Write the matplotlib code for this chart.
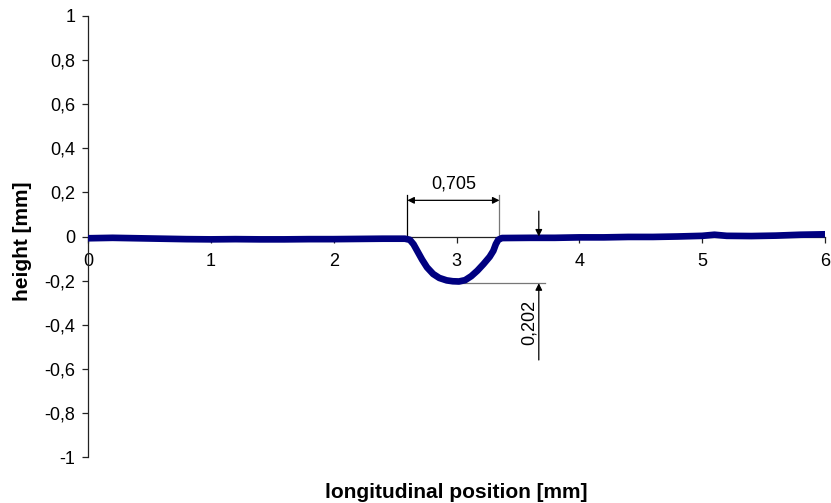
import matplotlib.pyplot as plt
from matplotlib.ticker import FuncFormatter

plt.rcParams['font.family'] = ['Liberation Sans', 'DejaVu Sans']
plt.rcParams['axes.unicode_minus'] = False

# profile data
pos_mm = [0.0, 0.2, 0.4, 0.6, 0.8, 1.0, 1.2, 1.4, 1.6, 1.8, 2.0, 2.2, 2.4, 2.58,
          2.62, 2.65, 2.68, 2.72, 2.76, 2.81, 2.86, 2.92, 2.97, 3.02, 3.07, 3.12,
          3.17, 3.22, 3.27, 3.30, 3.32, 3.34, 3.37,
          3.6, 3.8, 4.0, 4.2, 4.4, 4.6, 4.8, 5.0, 5.1, 5.2, 5.4, 5.6, 5.8, 6.0]
height_mm = [-0.008, -0.006, -0.008, -0.010, -0.012, -0.013, -0.012, -0.013, -0.013, -0.012,
             -0.012, -0.011, -0.010, -0.010,
             -0.015, -0.035, -0.065, -0.105, -0.140, -0.170, -0.188, -0.199, -0.203, -0.204,
             -0.198, -0.180, -0.155, -0.125, -0.092, -0.065, -0.035, -0.015, -0.007,
             -0.006, -0.006, -0.004, -0.004, -0.002, -0.002, 0.000, 0.003, 0.008, 0.003,
             0.002, 0.004, 0.008, 0.010]

width_label = "0,705"
depth_label = "0,202"
groove_start, groove_end = 2.60, 3.35
groove_depth = -0.212

fig = plt.figure(figsize=(8.31, 5.03), dpi=100)
ax = fig.add_axes([88 / 831, 1 - 457 / 503, (825 - 88) / 831, (457 - 16) / 503])

ax.plot(pos_mm, height_mm, color='#000080', linewidth=4.8, solid_capstyle='round',
        solid_joinstyle='round', zorder=3)

ax.set_xlim(0, 6)
ax.set_ylim(-1, 1)
ax.set_xticks(range(0, 7))
ax.set_yticks([-1, -0.8, -0.6, -0.4, -0.2, 0, 0.2, 0.4, 0.6, 0.8, 1])
ax.yaxis.set_major_formatter(FuncFormatter(lambda v, p: ('%g' % round(v, 2)).replace('.', ',')))

ax.spines['top'].set_visible(False)
ax.spines['right'].set_visible(False)
ax.spines['bottom'].set_position(('data', 0))
for s in ('left', 'bottom'):
    ax.spines[s].set_color('#222222')
    ax.spines[s].set_linewidth(0.9)
ax.tick_params(axis='both', direction='out', length=4, width=0.9, color='#222222',
               labelsize=13)
ax.tick_params(axis='x', pad=8)
ax.tick_params(axis='y', pad=5)

ax.set_xlabel('longitudinal position [mm]', fontsize=15, fontweight='bold', labelpad=0)
ax.xaxis.set_label_coords(0.5, -0.058)
ax.set_ylabel('height [mm]', fontsize=15, fontweight='bold')
ax.yaxis.set_label_coords(-0.076, 0.49)

# groove width dimension
ax.plot([groove_start, groove_start], [0, 0.186], color='black', lw=0.9, zorder=2)
ax.plot([groove_end, groove_end], [0, 0.186], color='#777777', lw=0.9, zorder=2)
ax.annotate('', xy=(groove_start, 0.164), xytext=(groove_end, 0.164),
            arrowprops=dict(arrowstyle='<|-|>', color='black', lw=0.9,
                            mutation_scale=10, shrinkA=0, shrinkB=0))
ax.text((groove_start + groove_end) / 2, 0.2, width_label, ha='center', va='bottom',
        fontsize=13)

# groove depth dimension
ax.plot([3.0, 3.72], [groove_depth, groove_depth], color='#777777', lw=0.9, zorder=2)
ax.annotate('', xy=(3.67, 0.0), xytext=(3.67, 0.115),
            arrowprops=dict(arrowstyle='-|>', color='black', lw=0.9,
                            mutation_scale=10, shrinkA=0, shrinkB=0))
ax.annotate('', xy=(3.67, groove_depth), xytext=(3.67, -0.56),
            arrowprops=dict(arrowstyle='-|>', color='black', lw=0.9,
                            mutation_scale=10, shrinkA=0, shrinkB=0))
ax.text(3.59, -0.39, depth_label, rotation=90, ha='center', va='center', fontsize=13)

fig.savefig('out.png', dpi=100)
